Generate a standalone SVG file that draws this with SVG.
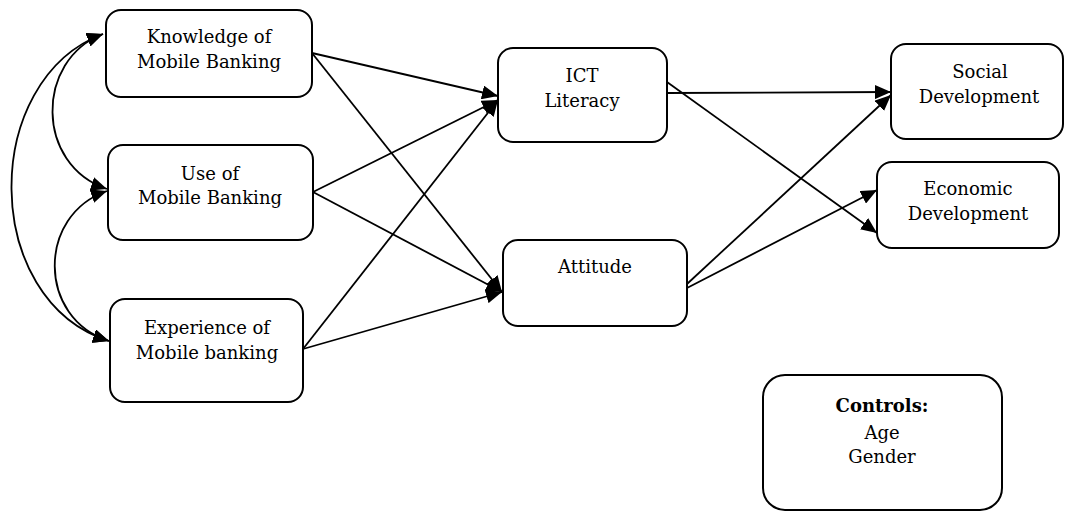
<svg xmlns="http://www.w3.org/2000/svg" width="1065" height="512" viewBox="0 0 1065 512">
<style>
.box{fill:#fff;stroke:#000;stroke-width:2}
.t{font-family:"DejaVu Serif",serif;font-size:18px;fill:#000;text-anchor:middle}
.b{font-weight:bold}
.c{fill:none;stroke:#000;stroke-width:1.8}
</style>
<defs>
<marker id="ah" markerUnits="userSpaceOnUse" markerWidth="18" markerHeight="14" refX="16" refY="7" orient="auto-start-reverse">
<path d="M0,0 L16,7 L0,14 Z" fill="#000"/>
</marker>
</defs>
<rect width="1065" height="512" fill="#fff"/>
<g id="connectors">
<path class="c" d="M103,34 C35,60 35,165 107,189" marker-start="url(#ah)" marker-end="url(#ah)"/>
<path class="c" d="M107,191 C37,215 37,318 109,341" marker-start="url(#ah)" marker-end="url(#ah)"/>
<path class="c" d="M103,34 C-20,80 -20,300 109,341" marker-start="url(#ah)" marker-end="url(#ah)"/>
<line class="c" x1="312" y1="53" x2="498" y2="96" marker-end="url(#ah)"/>
<line class="c" x1="312" y1="53" x2="502" y2="292" marker-end="url(#ah)"/>
<line class="c" x1="313" y1="192" x2="498" y2="100" marker-end="url(#ah)"/>
<line class="c" x1="313" y1="192" x2="502" y2="292" marker-end="url(#ah)"/>
<line class="c" x1="303" y1="349" x2="498" y2="100" marker-end="url(#ah)"/>
<line class="c" x1="303" y1="349" x2="502" y2="292" marker-end="url(#ah)"/>
<line class="c" x1="667" y1="93" x2="891" y2="92" marker-end="url(#ah)"/>
<line class="c" x1="667" y1="82" x2="877" y2="233" marker-end="url(#ah)"/>
<line class="c" x1="687" y1="284" x2="891" y2="95" marker-end="url(#ah)"/>
<line class="c" x1="687" y1="288" x2="877" y2="190" marker-end="url(#ah)"/>
</g>
<g id="knowledge">
<rect class="box" x="106" y="10" width="206" height="87" rx="15"/>
<text class="t" x="209" y="43">Knowledge of</text>
<text class="t" x="209" y="68">Mobile Banking</text>
</g>
<g id="use">
<rect class="box" x="108" y="145" width="205" height="95" rx="15"/>
<text class="t" x="210" y="180">Use of</text>
<text class="t" x="210" y="204">Mobile Banking</text>
</g>
<g id="experience">
<rect class="box" x="110" y="299" width="193" height="103" rx="15"/>
<text class="t" x="207" y="334">Experience of</text>
<text class="t" x="207" y="359">Mobile banking</text>
</g>
<g id="ict">
<rect class="box" x="498" y="48" width="169" height="94" rx="15"/>
<text class="t" x="582" y="82">ICT</text>
<text class="t" x="582" y="107">Literacy</text>
</g>
<g id="attitude">
<rect class="box" x="503" y="240" width="184" height="86" rx="15"/>
<text class="t" x="595" y="273">Attitude</text>
</g>
<g id="social">
<rect class="box" x="891" y="44" width="172" height="95" rx="15"/>
<text class="t" x="980" y="78">Social</text>
<text class="t" x="979" y="103">Development</text>
</g>
<g id="economic">
<rect class="box" x="877" y="162" width="182" height="86" rx="15"/>
<text class="t" x="968" y="195">Economic</text>
<text class="t" x="968" y="220">Development</text>
</g>
<g id="controls">
<rect class="box" x="763" y="375" width="239" height="135" rx="22"/>
<text class="t b" x="882" y="412">Controls:</text>
<text class="t" x="882" y="439">Age</text>
<text class="t" x="882" y="463">Gender</text>
</g>
</svg>
